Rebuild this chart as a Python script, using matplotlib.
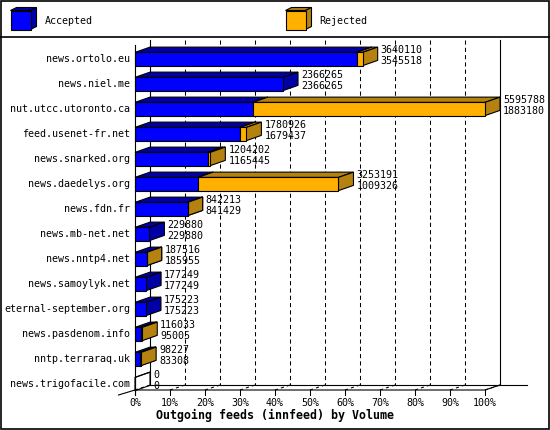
import matplotlib
matplotlib.use('Agg')
import matplotlib.pyplot as plt
from matplotlib.patches import Polygon, Rectangle

hosts = ["news.ortolo.eu", "news.niel.me", "nut.utcc.utoronto.ca",
         "feed.usenet-fr.net", "news.snarked.org", "news.daedelys.org",
         "news.fdn.fr", "news.mb-net.net", "news.nntp4.net",
         "news.samoylyk.net", "eternal-september.org", "news.pasdenom.info",
         "nntp.terraraq.uk", "news.trigofacile.com"]
volume_total = [3640110, 2366265, 5595788, 1780926, 1204202, 3253191, 842213,
                229880, 187516, 177249, 175223, 116033, 98227, 0]
volume_accepted = [3545518, 2366265, 1883180, 1679437, 1165445, 1009326, 841429,
                   229880, 185955, 177249, 175223, 95005, 83308, 0]
pct_ticks = [0, 10, 20, 30, 40, 50, 60, 70, 80, 90, 100]
series_names = ["Accepted", "Rejected"]

BLUE, BLUE_DARK = '#0000ff', '#0000a4'
ORANGE, ORANGE_DARK = '#ffb000', '#b5820f'
FONT = 'DejaVu Sans Mono'

fig = plt.figure(figsize=(5.5, 4.3), dpi=100)

# main axes: x in volume, y in rows (25 px per row)
ax = fig.add_axes([0, 0, 1, 1])
ax.axis('off')
vmax = max(volume_total)
px = vmax / 350.0
ax.set_xlim(-135 * px, 415 * px)
ax.set_ylim(430 / 25 - 59 / 25, -59 / 25)

dx = 15 * px     # 3d depth, horizontal
dy = 0.21        # 3d depth, vertical (rows)
h = 0.265        # half bar height
lw = 0.8


def row_at(pix):
    return (pix - 59) / 25.0


top_back, floor_back, floor_front = row_at(40), row_at(385), row_at(390)


def box(x0, x1, y, face, dark):
    if x1 <= 0:
        face = dark = 'none'
    ax.add_patch(Polygon([(x0, y - h), (x1, y - h), (x1 + dx, y - h - dy), (x0 + dx, y - h - dy)],
                         fc=dark, ec='black', lw=lw, zorder=3))
    ax.add_patch(Polygon([(x1, y - h), (x1 + dx, y - h - dy), (x1 + dx, y + h - dy), (x1, y + h)],
                         fc=dark, ec='black', lw=lw, zorder=3))
    ax.add_patch(Rectangle((x0, y - h), x1 - x0, 2 * h, fc=face, ec='black', lw=lw, zorder=4))


# grid on the back wall and floor
for p in pct_ticks:
    x = vmax * p / 100.0
    if 0 < p < 100:
        ax.plot([x + dx, x + dx], [top_back, floor_back], color='black', lw=0.75,
                dashes=(4, 3), zorder=1)
    ax.plot([x, x + dx], [floor_front, floor_back], color='black', lw=0.75,
            dashes=(3, 3), zorder=1)
    ax.plot([x, x], [floor_front, floor_front + 0.2], color='black', lw=0.75, zorder=1)
    ax.text(x, row_at(403), f"{p}%", ha='center', va='center', family=FONT, fontsize=7.2)

# walls and floor edges
ax.plot([dx, dx], [top_back, floor_back], color='black', lw=0.8, zorder=1)
ax.plot([vmax + dx, vmax + dx], [top_back, floor_back], color='black', lw=0.8, zorder=1)
ax.plot([dx, 392 * px], [floor_back, floor_back], color='black', lw=0.8, zorder=1)
ax.plot([-dx * 1.1, 0, vmax, vmax + dx], [floor_front + 0.2, floor_front, floor_front, floor_back],
        color='black', lw=0.8, zorder=2)
ax.plot([0, 0], [row_at(45), floor_front + 0.2], color='black', lw=0.8, zorder=5)

# bars
for i, (name, tot, acc) in enumerate(zip(hosts, volume_total, volume_accepted)):
    box(0, acc, i, BLUE, BLUE_DARK)
    if tot > acc:
        box(acc, tot, i, ORANGE, ORANGE_DARK)
    ax.text(-5 * px, i, name, ha='right', va='center', family=FONT, fontsize=7.2)
    ax.text(tot + dx + 3 * px, i - 0.36, str(tot), ha='left', va='center',
            family=FONT, fontsize=7.2, zorder=6)
    ax.text(tot + dx + 3 * px, i + 0.08, str(acc), ha='left', va='center',
            family=FONT, fontsize=7.2, zorder=6)

fig.text(0.5, 1 - 415 / 430, "Outgoing feeds (innfeed) by Volume", ha='center', va='center',
         family=FONT, fontweight='bold', fontsize=8.4)

# overlay in pixels: frame and legend
ov = fig.add_axes([0, 0, 1, 1])
ov.axis('off')
ov.set_xlim(0, 550)
ov.set_ylim(430, 0)
ov.add_patch(Rectangle((0.5, 0.5), 548.5, 428.5, fill=False, ec='black', lw=1.2))
ov.plot([0, 550], [36.5, 36.5], color='black', lw=1.2)
for (x0, name, face, dark) in [(10.5, series_names[0], BLUE, BLUE_DARK),
                               (285.5, series_names[1], ORANGE, ORANGE_DARK)]:
    y0, y1, w, d, e = 10.5, 29.5, 20, 6, 3
    ov.add_patch(Polygon([(x0, y0), (x0 + w, y0), (x0 + w + d, y0 - e), (x0 + d, y0 - e)],
                         fc=dark, ec='black', lw=lw))
    ov.add_patch(Polygon([(x0 + w, y0), (x0 + w + d, y0 - e), (x0 + w + d, y1 - e), (x0 + w, y1)],
                         fc=dark, ec='black', lw=lw))
    ov.add_patch(Rectangle((x0, y0), w, y1 - y0, fc=face, ec='black', lw=lw))
    ov.text(x0 + 34, 21, name, ha='left', va='center', family=FONT, fontsize=7.2)

fig.savefig('out.png', dpi=100)
